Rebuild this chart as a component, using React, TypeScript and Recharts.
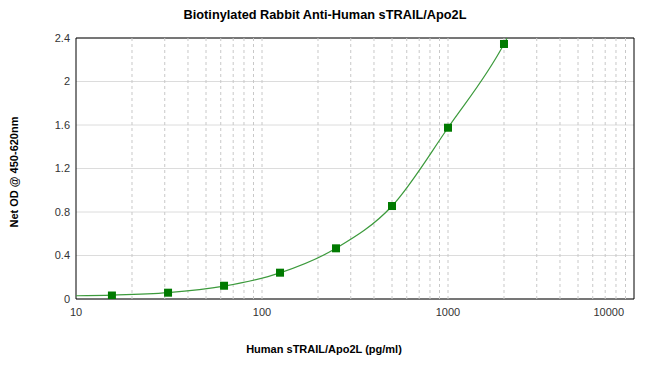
import { CartesianGrid, ComposedChart, Line, ReferenceArea, ReferenceLine, Scatter, XAxis, YAxis } from "recharts";

// standard curve concentrations (pg/ml) and OD readings
const concentrations = [15.6, 31.25, 62.5, 125, 250, 500, 1000, 2000];
const odValues = [0.032, 0.058, 0.122, 0.242, 0.466, 0.855, 1.575, 2.345];

// fitted curve (ends where it leaves the plot)
const curveX = [10, 15.6, 31.25, 62.5, 125, 250, 500, 1000, 2000, 2080];
const curveY = [0.03, 0.036, 0.058, 0.118, 0.24, 0.466, 0.855, 1.575, 2.345, 2.4];

const xTicks = [10, 100, 1000, 10000];
const yTicks = [0, 0.4, 0.8, 1.2, 1.6, 2, 2.4];
const minorX = [20, 30, 40, 50, 60, 70, 80, 90, 100, 200, 300, 400, 500, 600, 700, 800, 900, 1000, 2000, 3000, 4000, 5000, 6000, 7000, 8000, 9000];

const points = concentrations.map((x, i) => ({ x, y: odValues[i] }));
const curve = curveX.map((x, i) => ({ x, y: curveY[i] }));

const font = "'Liberation Sans', Arial, sans-serif";

function Square({ cx, cy }: any) {
  if (cx == null || cy == null) return null;
  return <rect x={cx - 4} y={cy - 4} width={8} height={8} fill="#007a00" />;
}

function XTick({ x, y, payload }: any) {
  const v = payload.value;
  const last = v === 10000;
  return (
    <text
      x={last ? x - 6 : x}
      y={y + 9}
      textAnchor={last ? "end" : "middle"}
      fontSize={11}
      fontFamily={font}
      fill="#333"
    >
      {v}
    </text>
  );
}

export default function App() {
  return (
    <div style={{ position: "absolute", left: 0, top: 0, width: 650, height: 370, background: "#fff", fontFamily: font }}>
      <div style={{ position: "absolute", top: 7, left: 0, width: 650, textAlign: "center", fontSize: 12.75, fontWeight: "bold", color: "#000" }}>
        Biotinylated Rabbit Anti-Human sTRAIL/Apo2L
      </div>
      <ComposedChart width={650} height={370} margin={{ top: 38, right: 16, bottom: 40, left: 26 }}>
        <CartesianGrid vertical={false} stroke="#dcdcdc" />
        {minorX.map((v) => (
          <ReferenceLine key={v} x={v} stroke="#c8c8c8" strokeDasharray="3 3" />
        ))}
        <XAxis
          dataKey="x"
          type="number"
          scale="log"
          domain={[10, 10000]}
          ticks={xTicks}
          tick={<XTick />}
          tickLine={false}
          axisLine={false}
          height={31}
          allowDataOverflow
        />
        <YAxis
          type="number"
          domain={[0, 2.4]}
          ticks={yTicks}
          tickLine={false}
          axisLine={false}
          tickSize={0}
          tickMargin={6}
          width={50}
          tick={{ fontSize: 11, fill: "#333", fontFamily: font }}
          allowDataOverflow
        />
        <Line data={curve} dataKey="y" type="monotone" stroke="#3c9a3c" strokeWidth={1.2} dot={false} isAnimationActive={false} />
        <Scatter data={points} dataKey="y" shape={<Square />} isAnimationActive={false} />
        <ReferenceArea x1={10} x2={10000} y1={0} y2={2.4} fill="none" stroke="#000" strokeWidth={1} />
      </ComposedChart>
      <div style={{ position: "absolute", top: 343, left: 0, width: 648, textAlign: "center", fontSize: 11, fontWeight: "bold", color: "#000" }}>
        Human sTRAIL/Apo2L (pg/ml)
      </div>
      <div
        style={{
          position: "absolute",
          left: 14,
          top: 172,
          transform: "translate(-50%, -50%) rotate(-90deg)",
          whiteSpace: "nowrap",
          fontSize: 11,
          fontWeight: "bold",
          color: "#000",
        }}
      >
        Net OD @ 450-620nm
      </div>
    </div>
  );
}
